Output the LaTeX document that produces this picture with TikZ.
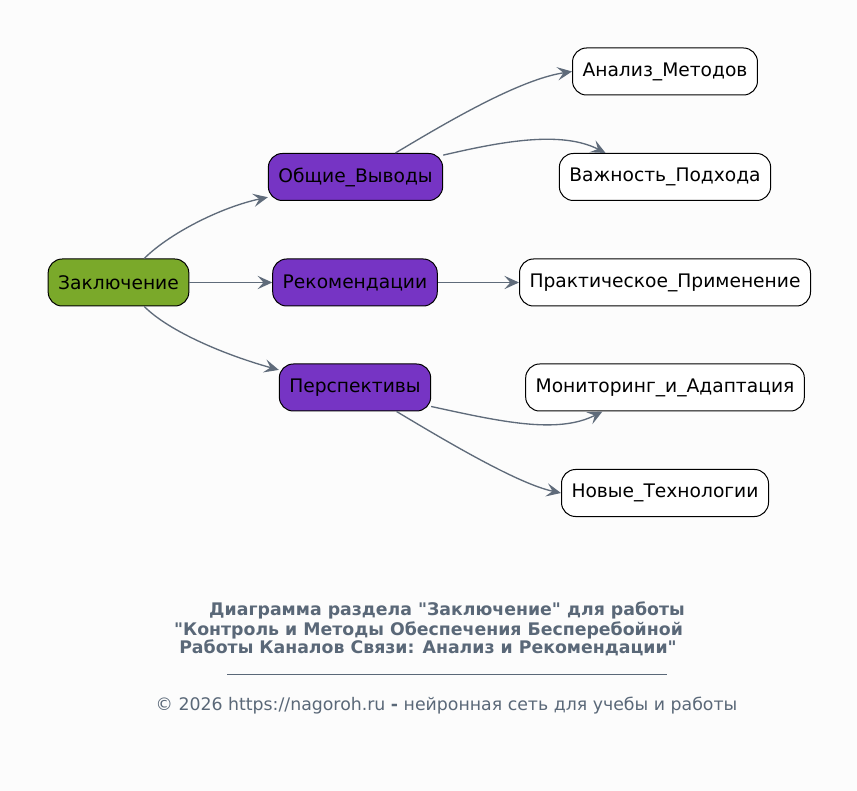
\documentclass[tikz,border=0pt]{standalone}
\usepackage{fontspec}
\setmainfont{DejaVu Sans}[Ligatures=TeXOff]
\usepackage{tikz}
\usetikzlibrary{arrows.meta,positioning}
\colorlet{bgA}{black!1}
\definecolor{rootA}{HTML}{7AA92A}
\definecolor{midA}{HTML}{7634C4}
\definecolor{edgeA}{HTML}{5F6B7A}
\definecolor{noteA}{HTML}{5A6878}

\begin{document}
\begin{tikzpicture}[x=0.75pt,y=-0.75pt,
    box/.style={draw=black, line width=0.75pt, rounded corners=10.5pt,
      minimum height=35.25pt, inner xsep=7.5pt, font=\fontsize{14}{16}\selectfont},
    rootbox/.style={box, fill=rootA},
    midbox/.style={box, fill=midA},
    leafbox/.style={box, fill=white},
    link/.style={draw=edgeA, line width=1pt,
      -{Stealth[length=11pt,width=10pt,inset=4.5pt]}},
    note/.style={text=noteA, inner sep=0pt}]
      % background and page margins
      \fill[bgA] (0,0) rectangle (857,791);
      \useasboundingbox (0,0) rectangle (857,791);

      % root
      \node[rootbox] (zakl) at (118.5,282.5) {Заключение};

      % second level
      \node[midbox] (obsh) at (355.5,177) {Общие\_Выводы};
      \node[midbox] (reko) at (355,282.5) {Рекомендации};
      \node[midbox] (pers) at (355,387.5) {Перспективы};

      % leaves
      \node[leafbox] (anal) at (665,71.5) {Анализ\_Методов};
      \node[leafbox] (vazh) at (665,177) {Важность\_Подхода};
      \node[leafbox] (prak) at (665,282.5) {Практическое\_Применение};
      \node[leafbox] (moni) at (665,387.5) {Мониторинг\_и\_Адаптация};
      \node[leafbox] (novy) at (665,493) {Новые\_Технологии};

      % links from the root
      \draw[link] (zakl.43) .. controls +(25,-25) and +(-47,10) .. (obsh.193);
      \draw[link] (zakl.east) -- (reko.west);
      \draw[link] (zakl.-43) .. controls +(25,25) and +(-54,-15) .. (pers.167);

      % links to the leaves
      \draw[link] (obsh.31) .. controls +(55,-33) and +(-52,8) .. (anal.west);
      \draw[link] (obsh.14) .. controls +(56,-13) and +(-45,-23) .. (vazh.158);
      \draw[link] (reko.east) -- (prak.west);
      \draw[link] (pers.-14) .. controls +(69,15) and +(-45,23) .. (moni.201);
      \draw[link] (pers.-30) .. controls +(55,33) and +(-42,-9) .. (novy.west);

      % caption
      \node[note, font=\bfseries\fontsize{13}{15}\selectfont] (cap1) at (447,610)
        {Диаграмма раздела "Заключение" для работы};
      \node[note, font=\bfseries\fontsize{13}{15}\selectfont] (cap2) at (428.5,630)
        {"Контроль и Методы Обеспечения Бесперебойной};
      \node[note, font=\bfseries\fontsize{13}{15}\selectfont] (cap3) at (428,648)
        {Работы Каналов Связи: Анализ и Рекомендации"};
      \draw[noteA, line width=0.6pt] (227,674) -- (667,674);
      \node[note, font=\fontsize{13}{15}\selectfont] (copy) at (446.5,706)
        {© 2026 https://nagoroh.ru \textbf{-} нейронная сеть для учебы и работы};
    \end{tikzpicture}
\end{document}
